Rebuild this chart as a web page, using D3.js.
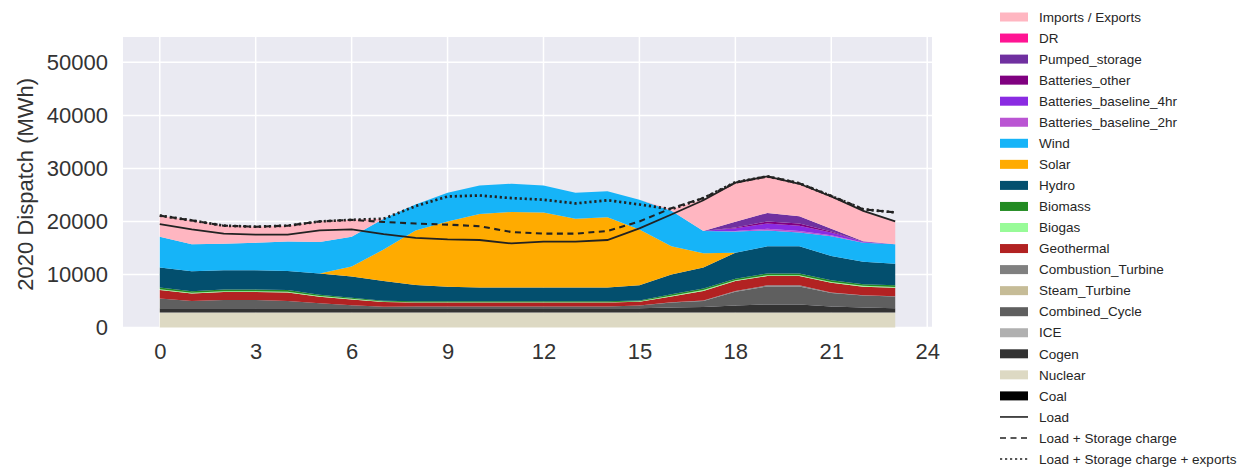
<!DOCTYPE html>
<html>
<head>
<meta charset="utf-8">
<script src="https://cdn.jsdelivr.net/npm/d3@7"></script>
<style>
  html, body { margin: 0; padding: 0; background: #ffffff; }
  svg { display: block; font-family: "Liberation Sans", Arial, sans-serif; }
</style>
</head>
<body>
<svg id="chart" width="1242" height="467"></svg>
<script>
// Hour of day
const hours = d3.range(0, 24);

// Dispatch by resource (MWh), bottom of the stack first
const coal = [0,0,0,0,0,0,0,0,0,0,0,0,0,0,0,0,0,0,0,0,0,0,0,0];
const nuclear = [2850,2850,2850,2850,2850,2850,2850,2850,2850,2850,2850,2850,2850,2850,2850,2850,2850,2850,2850,2850,2850,2850,2850,2850];
const cogen = [800,800,800,800,800,800,800,800,800,800,800,800,800,800,800,800,900,1000,1300,1500,1500,1100,900,800];
const ice = [0,0,0,0,0,0,0,0,0,0,0,0,0,0,0,0,0,0,0,0,0,0,0,0];
const combinedCycle = [1800,1350,1550,1550,1350,920,550,250,300,300,300,300,300,300,300,500,950,1150,2600,3400,3400,2550,2300,2200];
const steamTurbine = [0,0,0,0,0,0,0,0,0,0,0,0,0,0,0,0,0,0,0,0,0,0,0,0];
const combustionTurbine = [0,0,0,0,0,0,0,0,0,0,0,0,0,0,0,0,50,100,150,200,200,100,50,50];
const geothermal = [1620,1400,1500,1500,1600,1230,1100,900,750,750,750,750,750,750,750,700,1100,1800,1850,1750,1750,1850,1600,1600];
const biogas = [150,150,150,150,150,120,100,80,80,80,80,80,80,80,80,80,120,150,150,150,150,150,150,150];
const biomass = [300,300,300,300,300,250,220,180,170,170,170,170,170,170,170,170,280,300,300,350,350,300,300,300];
const hydro = [3780,3750,3650,3650,3600,4030,3980,3690,3050,2750,2600,2600,2600,2600,2600,2850,3750,3950,4900,5100,5100,4600,4250,4050];
const solar = [0,0,0,0,0,0,1900,5950,10300,12300,13850,14250,14150,12950,13250,10550,5300,2700,0,0,0,0,0,0];
const wind = [5800,5100,5000,5200,5550,5900,5600,5800,4900,5400,5400,5300,5100,4900,4900,5600,6700,4200,4000,3000,2600,3700,3600,3700];
const batteries2hr = [0,0,0,0,0,0,0,0,0,0,0,0,0,0,0,0,0,0,100,300,300,200,50,0];
const batteries4hr = [0,0,0,0,0,0,0,0,0,0,0,0,0,0,0,0,0,0,500,1000,1000,500,100,0];
const batteriesOther = [0,0,0,0,0,0,0,0,0,0,0,0,0,0,0,0,0,0,150,400,400,200,0,0];
const pumpedStorage = [0,0,0,0,0,0,0,0,0,0,0,0,0,0,0,0,0,0,1100,1600,1400,500,100,0];
const dr = [0,0,0,0,0,0,0,0,0,0,0,0,0,0,0,0,0,0,0,0,0,0,0,0];
const importsExports = [4000,4500,3400,3000,3000,3900,3200,0,0,0,0,0,0,0,0,0,300,6000,7350,6900,6100,6100,5750,4200];

// Demand lines (MWh)
const load = [19500,18500,17700,17500,17500,18300,18500,17600,16900,16600,16500,15850,16200,16200,16500,18700,21300,24000,27300,28500,27100,24700,22000,20000];
const loadStorage = [21100,20200,19200,19000,19200,20000,20300,19900,19600,19400,19100,18000,17700,17700,18200,20000,22500,24400,27300,28500,27200,24800,22300,21700];
const loadStorageExports = [21100,20200,19200,19000,19200,20000,20300,20500,22900,24700,24900,24400,24100,23400,24000,23200,22300,24400,27400,28500,27200,24800,22300,21700];

// Axis ticks
const xTicks = [0, 3, 6, 9, 12, 15, 18, 21, 24];
const yTicks = [0, 10000, 20000, 30000, 40000, 50000];

const layers = [
  { name: "Coal", values: coal, color: "#000000" },
  { name: "Nuclear", values: nuclear, color: "#ddd9c3" },
  { name: "Cogen", values: cogen, color: "#333333" },
  { name: "ICE", values: ice, color: "#b0b0b0" },
  { name: "Combined_Cycle", values: combinedCycle, color: "#5f5f5f" },
  { name: "Steam_Turbine", values: steamTurbine, color: "#c6bc97" },
  { name: "Combustion_Turbine", values: combustionTurbine, color: "#808080" },
  { name: "Geothermal", values: geothermal, color: "#b22222" },
  { name: "Biogas", values: biogas, color: "#98fb98" },
  { name: "Biomass", values: biomass, color: "#228b22" },
  { name: "Hydro", values: hydro, color: "#034f6e" },
  { name: "Solar", values: solar, color: "#ffab00" },
  { name: "Wind", values: wind, color: "#16b4f8" },
  { name: "Batteries_baseline_2hr", values: batteries2hr, color: "#ba55d3" },
  { name: "Batteries_baseline_4hr", values: batteries4hr, color: "#8a2be2" },
  { name: "Batteries_other", values: batteriesOther, color: "#800080" },
  { name: "Pumped_storage", values: pumpedStorage, color: "#7030a0" },
  { name: "DR", values: dr, color: "#ff1493" },
  { name: "Imports / Exports", values: importsExports, color: "#ffb6c1" }
];

const lines = [
  { name: "Load", values: load, dash: null, width: 1.8 },
  { name: "Load + Storage charge", values: loadStorage, dash: "6,4.5", width: 2.1 },
  { name: "Load + Storage charge + exports", values: loadStorageExports, dash: "2.2,2.8", width: 2.7 }
];

const svg = d3.select("#chart");
const plot = { left: 123, right: 932, top: 37, bottom: 327.5 };

const x = d3.scaleLinear().domain([-1.15, 24.15]).range([plot.left, plot.right]);
const y = d3.scaleLinear().domain([0, 54780]).range([plot.bottom, plot.top]);

// Background panel
svg.append("rect")
  .attr("x", plot.left).attr("y", plot.top)
  .attr("width", plot.right - plot.left).attr("height", plot.bottom - plot.top)
  .attr("fill", "#eaeaf2");

// Grid
const grid = svg.append("g");
grid.selectAll("line.h").data(yTicks).join("line")
  .attr("x1", plot.left).attr("x2", plot.right)
  .attr("y1", d => y(d)).attr("y2", d => y(d))
  .attr("stroke", "#ffffff").attr("stroke-width", 1.5);
grid.selectAll("line.v").data(xTicks).join("line")
  .attr("y1", plot.top).attr("y2", plot.bottom)
  .attr("x1", d => x(d)).attr("x2", d => x(d))
  .attr("stroke", "#ffffff").attr("stroke-width", 1.5);

// Stacked areas
const table = hours.map((h, i) => {
  const row = { hour: h };
  layers.forEach(l => { row[l.name] = l.values[i]; });
  return row;
});
const stack = d3.stack().keys(layers.map(l => l.name)).order(d3.stackOrderNone).offset(d3.stackOffsetNone);
const series = stack(table);

const area = d3.area()
  .x(d => x(d.data.hour))
  .y0(d => y(d[0]))
  .y1(d => y(d[1]));

svg.append("g").selectAll("path").data(series).join("path")
  .attr("d", area)
  .attr("fill", (d, i) => layers[i].color)
  .attr("stroke", "none");

// Demand lines
const line = d3.line().x((d, i) => x(hours[i])).y(d => y(d));
svg.append("g").selectAll("path").data(lines).join("path")
  .attr("d", d => line(d.values))
  .attr("fill", "none")
  .attr("stroke", "#222222")
  .attr("stroke-width", d => d.width)
  .attr("stroke-dasharray", d => d.dash);

// Axes
const xAxis = d3.axisBottom(x).tickValues(xTicks).tickSize(0).tickPadding(16);
const gx = svg.append("g").attr("transform", `translate(0,${plot.bottom})`).call(xAxis);
gx.select(".domain").remove();
gx.selectAll("text").attr("font-size", 22).attr("fill", "#333333")
  .attr("font-family", "'Liberation Sans', Arial, sans-serif");

const yAxis = d3.axisLeft(y).tickValues(yTicks).tickSize(0).tickPadding(15).tickFormat(d3.format("d"));
const gy = svg.append("g").attr("transform", `translate(${plot.left},0)`).call(yAxis);
gy.select(".domain").remove();
gy.selectAll("text").attr("font-size", 22).attr("fill", "#333333")
  .attr("font-family", "'Liberation Sans', Arial, sans-serif");

svg.append("text")
  .attr("transform", `translate(33,${(plot.top + plot.bottom) / 2 + 2}) rotate(-90)`)
  .attr("text-anchor", "middle")
  .attr("font-size", 22)
  .attr("fill", "#333333")
  .text("2020 Dispatch (MWh)");

// Legend: resources from top of stack down, then lines
const legendItems = layers.slice().reverse().map(l => ({ type: "patch", name: l.name, color: l.color }))
  .concat(lines.map(l => ({ type: "line", name: l.name, dash: l.dash })));

const legend = svg.append("g").attr("transform", "translate(1000,17)");
const item = legend.selectAll("g").data(legendItems).join("g")
  .attr("transform", (d, i) => `translate(0,${i * 21.05})`);

item.filter(d => d.type === "patch").append("rect")
  .attr("x", 0).attr("y", -4.5).attr("width", 28).attr("height", 9)
  .attr("fill", d => d.color);
item.filter(d => d.type === "line").append("line")
  .attr("x1", 0).attr("x2", 28).attr("y1", 0).attr("y2", 0)
  .attr("stroke", "#222222").attr("stroke-width", 1.6)
  .attr("stroke-dasharray", d => d.dash);
item.append("text")
  .attr("x", 39).attr("y", 0).attr("dy", "0.35em")
  .attr("font-size", 13.5)
  .attr("fill", "#262626")
  .text(d => d.name);
</script>
</body>
</html>
